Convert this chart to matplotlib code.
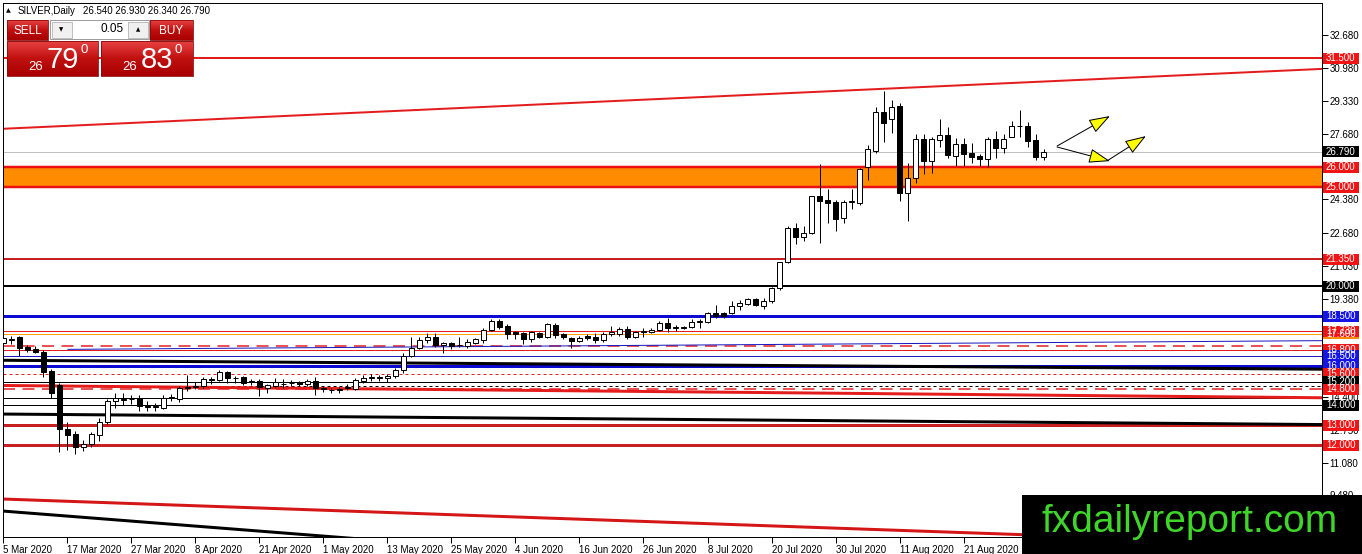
import matplotlib
matplotlib.use('Agg')
import numpy as np
import matplotlib.pyplot as plt
import matplotlib.transforms as mtransforms
from matplotlib.patches import Rectangle, FancyArrowPatch
from matplotlib.colors import LinearSegmentedColormap

plt.rcParams['font.family'] = ['Liberation Sans', 'DejaVu Sans']

# ---- data ----
symbol = 'SILVER,Daily'
header_ohlc = ['26.540', '26.930', '26.340', '26.790']
sell_price = ('26', '79', '0')
buy_price = ('26', '83', '0')
lot_size = '0.05'

opens = [17.13, 17.29, 17.45, 16.92, 16.82, 16.67, 15.72, 15.03, 12.79, 12.56,
         11.88, 12.03, 12.51, 13.17, 14.20, 14.29, 14.32, 14.35, 13.95, 13.90,
         13.85, 14.35, 14.31, 14.91, 14.91, 14.98, 15.28, 15.28, 15.66, 15.38,
         15.41, 15.16, 15.23, 14.86, 14.98, 15.06, 15.14, 15.16, 15.06, 15.23,
         14.86, 14.79, 14.79, 14.89, 14.81, 15.23, 15.39, 15.41, 15.36, 15.48,
         15.78, 16.50, 16.90, 17.29, 17.45, 17.04, 17.15, 17.02, 16.99, 17.15,
         17.29, 17.80, 18.26, 18.00, 17.68, 17.63, 17.33, 17.63, 17.46, 18.05,
         17.60, 17.38, 17.26, 17.50, 17.43, 17.30, 17.58, 17.60, 17.83, 17.43,
         17.70, 17.68, 17.80, 18.16, 17.90, 17.91, 17.93, 18.20, 18.18, 18.63,
         18.63, 18.63, 19.01, 19.11, 19.36, 19.01, 19.24, 19.90, 21.21, 22.92,
         22.50, 22.67, 24.56, 24.35, 24.26, 23.43, 24.25, 24.21, 26.00, 26.83,
         28.80, 28.41, 29.09, 24.72, 25.45, 27.41, 26.33, 27.38, 27.63, 26.57,
         27.18, 26.73, 26.57, 26.43, 27.41, 26.95, 27.51, 28.06, 28.08, 27.38,
         26.54]
highs = [17.45, 17.49, 17.49, 17.04, 17.00, 16.77, 15.82, 15.11, 13.14, 12.71,
         12.23, 12.67, 13.35, 14.31, 14.63, 14.60, 14.50, 14.52, 14.20, 14.10,
         14.50, 14.55, 14.99, 15.51, 15.16, 15.44, 15.44, 15.78, 15.73, 15.49,
         15.49, 15.31, 15.31, 15.08, 15.36, 15.32, 15.28, 15.23, 15.34, 15.44,
         14.98, 14.89, 14.94, 15.08, 15.36, 15.53, 15.56, 15.53, 15.56, 15.87,
         16.62, 17.42, 17.45, 17.62, 17.62, 17.20, 17.20, 17.45, 17.32, 17.40,
         17.88, 18.33, 18.33, 18.10, 17.76, 17.71, 17.76, 17.71, 18.16, 18.13,
         17.66, 17.46, 17.50, 17.60, 17.63, 17.71, 18.00, 17.96, 18.00, 17.76,
         17.88, 17.88, 18.26, 18.38, 18.05, 18.00, 18.33, 18.33, 18.71, 19.06,
         18.71, 19.27, 19.31, 19.39, 19.39, 19.39, 19.95, 21.24, 23.02, 23.20,
         23.04, 24.56, 26.16, 24.89, 24.35, 24.35, 24.89, 25.95, 27.12, 29.02,
         29.86, 29.39, 29.22, 26.20, 27.69, 27.69, 27.54, 28.41, 28.04, 27.46,
         27.46, 27.21, 26.67, 27.54, 27.84, 27.68, 28.34, 28.89, 28.29, 27.68,
         26.93]
lows = [17.05, 17.07, 16.50, 16.67, 16.62, 15.44, 14.39, 11.66, 11.75, 11.53,
        11.69, 11.91, 12.20, 13.07, 13.88, 14.02, 14.05, 13.72, 13.72, 13.73,
        13.80, 14.20, 14.15, 14.74, 14.81, 14.89, 15.08, 15.24, 15.14, 15.14,
        15.03, 15.03, 14.49, 14.61, 14.91, 14.86, 14.98, 14.98, 14.98, 14.53,
        14.69, 14.61, 14.64, 14.78, 14.78, 15.14, 15.23, 15.24, 15.19, 15.36,
        15.64, 16.45, 16.84, 17.15, 16.95, 16.62, 16.82, 16.95, 16.87, 17.09,
        17.15, 17.76, 17.83, 17.33, 17.33, 17.09, 17.21, 17.38, 17.38, 17.38,
        17.33, 16.87, 17.21, 17.30, 17.16, 17.21, 17.50, 17.50, 17.33, 17.38,
        17.43, 17.63, 17.76, 17.71, 17.76, 17.83, 17.88, 17.88, 18.13, 18.38,
        18.38, 18.60, 18.81, 19.06, 19.01, 18.84, 19.17, 19.83, 21.18, 22.11,
        22.30, 22.64, 22.17, 23.20, 22.80, 23.20, 23.88, 24.08, 25.36, 26.73,
        27.28, 27.74, 24.32, 23.31, 25.19, 25.66, 25.72, 27.04, 26.45, 26.07,
        26.07, 26.20, 26.07, 26.03, 26.45, 26.73, 27.51, 27.51, 27.00, 26.37,
        26.34]
closes = [17.37, 17.32, 16.90, 16.77, 16.70, 15.69, 14.64, 12.79, 12.51, 11.91,
          12.03, 12.54, 13.17, 14.21, 14.35, 14.32, 14.30, 13.97, 13.92, 13.95,
          14.38, 14.40, 14.85, 14.86, 14.98, 15.32, 15.31, 15.69, 15.36, 15.36,
          15.11, 15.21, 14.91, 15.03, 15.19, 15.09, 15.13, 15.08, 15.23, 14.86,
          14.84, 14.76, 14.83, 14.93, 15.28, 15.39, 15.43, 15.38, 15.46, 15.78,
          16.47, 16.90, 17.27, 17.45, 17.04, 17.15, 16.99, 17.05, 17.20, 17.32,
          17.80, 18.26, 17.96, 17.60, 17.58, 17.33, 17.68, 17.46, 18.08, 17.55,
          17.46, 17.26, 17.41, 17.38, 17.30, 17.58, 17.68, 17.83, 17.46, 17.71,
          17.73, 17.81, 18.16, 17.88, 17.93, 17.93, 18.21, 18.23, 18.63, 18.50,
          18.51, 19.01, 19.17, 19.36, 19.06, 19.24, 19.90, 21.21, 22.92, 22.50,
          22.67, 24.56, 24.32, 24.21, 23.40, 24.26, 24.28, 25.90, 26.90, 28.80,
          28.21, 29.05, 24.72, 25.45, 27.41, 26.33, 27.41, 27.63, 26.62, 27.18,
          26.67, 26.53, 26.43, 27.41, 26.95, 27.41, 28.06, 28.09, 27.33, 26.50,
          26.79]

# one label every 8 bars
date_labels = ['5 Mar 2020', '17 Mar 2020', '27 Mar 2020', '8 Apr 2020',
               '21 Apr 2020', '1 May 2020', '13 May 2020', '25 May 2020',
               '4 Jun 2020', '16 Jun 2020', '26 Jun 2020', '8 Jul 2020',
               '20 Jul 2020', '30 Jul 2020', '11 Aug 2020', '21 Aug 2020']
label_step = 8

price_ticks = [32.68, 30.98, 29.33, 27.68, 24.38, 22.68, 21.03, 19.38,
               14.40, 12.75, 11.08, 9.48]

zone_low, zone_high = 25.00, 26.00

level_prices = [31.50, 26.79, 26.00, 25.00, 21.35, 20.00, 18.50, 17.73, 17.60,
                17.00, 16.80, 16.50, 16.00, 15.60, 15.20, 14.95, 14.80, 14.35,
                14.00, 13.00, 12.00]
tag_prices = [31.50, 26.79, 26.00, 25.00, 21.35, 20.00, 18.50, 17.60, 17.73,
              16.80, 16.50, 16.00, 15.60, 15.20, 14.80, 14.00, 13.00, 12.00]

trend_start = [(0, 27.94), (0, 16.27), (8, 16.82), (0, 15.00), (0, 13.56),
               (-1, 9.29), (-1, 8.70)]
trend_end = [(165, 30.96), (165, 15.82), (165, 17.26), (165, 14.38),
             (165, 13.03), (165, 6.95), (165, 3.47)]

arrow_start = [(131.7, 27.07), (131.7, 27.02), (138.1, 26.36)]
arrow_end = [(138.3, 28.58), (138.3, 26.31), (142.8, 27.57)]

# ---- styles ----
RED = '#e41c1c'
DRED = '#c82020'
BLUE = '#0a0ad2'
PX = 0.72  # one pixel in points at 100 dpi

level_styles = {
    31.50: (RED, 2, None), 26.79: ('#c0c0c0', 1, None),
    26.00: ('#ee1010', 2.5, None), 25.00: ('#ee1010', 2.5, None),
    21.35: (DRED, 2, None), 20.00: ('black', 2, None),
    18.50: (BLUE, 3, None), 17.73: (RED, 1, None),
    17.60: ('#ffa500', 1, None), 17.00: (RED, 1.5, (8, 5)),
    16.80: (RED, 1, None), 16.50: ('#1818c0', 1, None),
    16.00: (BLUE, 3, None), 15.60: (RED, 1, (3, 3)),
    15.20: ('black', 1, None), 14.95: ('black', 1, (3, 3)),
    14.80: (RED, 1.5, (8, 5)), 14.35: ('black', 1, None),
    14.00: ('black', 1, None), 13.00: (DRED, 3, None), 12.00: (DRED, 3, None),
}
trend_styles = [(RED, 2), ('black', 3), ('#1818c0', 1), (RED, 3),
                ('black', 3), ('#d41616', 3), ('black', 3)]
tag_colors = {31.50: '#f01414', 26.79: 'black', 26.00: '#f01414',
              25.00: '#f01414', 21.35: '#f01414', 20.00: 'black',
              18.50: '#1414e6', 17.60: '#ff8c00', 17.73: '#f01414',
              16.80: '#f01414', 16.50: '#1414e6', 16.00: '#1414e6',
              15.60: '#f01414', 15.20: 'black', 14.80: '#f01414',
              14.00: 'black', 13.00: '#f01414', 12.00: '#f01414'}

W, H = 1362, 554
fig = plt.figure(figsize=(W / 100, H / 100), dpi=100)
ax = fig.add_axes([3 / W, 17 / H, 1319 / W, 534 / H])
ax.set_xlim(-0.06, 164.81)
ax.set_ylim(7.363, 34.278)
px_per_price = 534 / (34.278 - 7.363)

for s in ax.spines.values():
    s.set_linewidth(PX)
    s.set_color('black')

# support zone
ax.axhspan(zone_low, zone_high, color='#ff8c00', lw=0, zorder=1)

# horizontal levels
for p in level_prices:
    c, w, d = level_styles[p]
    ln = ax.axhline(p, color=c, lw=w * PX, zorder=2)
    if d:
        ln.set_dashes(d)

# trend lines
for (x0, y0), (x1, y1), (c, w) in zip(trend_start, trend_end, trend_styles):
    ax.plot([x0, x1], [y0, y1], color=c, lw=w * PX, zorder=2,
            solid_capstyle='butt')

# candles
x = np.arange(len(opens))
o = np.array(opens)
c_ = np.array(closes)
ax.vlines(x, lows, highs, color='black', lw=PX, zorder=5)
bottoms = np.minimum(o, c_)
heights = np.maximum(np.abs(c_ - o), 0.01)
fills = ['white' if cl >= op else 'black' for op, cl in zip(o, c_)]
ax.bar(x, heights, bottom=bottoms, width=0.56, color=fills,
       edgecolor='black', linewidth=PX, zorder=6)

# arrows
for a, b in zip(arrow_start, arrow_end):
    ax.add_patch(FancyArrowPatch(a, b, arrowstyle='-|>,head_length=1.1,head_width=0.38',
                                 mutation_scale=12, fc='#ffff00', ec='black',
                                 lw=PX, zorder=8, shrinkA=0, shrinkB=0))

# axes ticks
ax.yaxis.tick_right()
ax.set_yticks(price_ticks, [f'{v:.3f}' for v in price_ticks])
ax.tick_params(axis='y', direction='out', length=4, width=PX, pad=1.5,
               labelsize=7)
ax.set_xticks(range(0, label_step * len(date_labels), label_step), date_labels)
ax.tick_params(axis='x', direction='out', length=4, width=PX, pad=1.5,
               labelsize=7)
for t in ax.get_xticklabels():
    t.set_ha('left')

# price tags on the right scale
tag_tf = mtransforms.blended_transform_factory(ax.transAxes, ax.transData)
for p in tag_prices:
    ax.add_patch(Rectangle((1 + 1 / 1319, p - 5.5 / px_per_price), 36 / 1319,
                           11 / px_per_price, transform=tag_tf,
                           fc=tag_colors[p], ec='none', clip_on=False,
                           zorder=20))
    ax.text(1 + 4 / 1319, p, f'{p:.3f}', transform=tag_tf, color='white',
            fontsize=7, va='center', ha='left', clip_on=False, zorder=21)

# ---- overlay in pixel coordinates: header, trade panel, watermark ----
ov = fig.add_axes([0, 0, 1, 1])
ov.patch.set_alpha(0)
ov.axis('off')

red_cmap = LinearSegmentedColormap.from_list('r', ['#e84242', '#c01010', '#a80000'])
grad = np.linspace(0, 1, 64).reshape(-1, 1)


def red_box(x0, y0, x1, y1):
    ov.imshow(grad, cmap=red_cmap, extent=(x0, x1, y1, y0), aspect='auto',
              interpolation='bilinear', zorder=2)
    ov.add_patch(Rectangle((x0, y0), x1 - x0, y1 - y0, fc='none',
                           ec='#8a0a0a', lw=0.6, zorder=3))


red_box(7, 20, 48, 40)
red_box(150, 20, 193, 40)
red_box(7, 41, 98, 76)
red_box(101, 41, 193, 76)
ov.add_patch(Rectangle((50, 20), 99, 18.5, fc='white', ec='#9a9a9a', lw=0.7, zorder=2))
ov.add_patch(Rectangle((51.5, 21.5), 20, 16, fc='#f0f0f0', ec='#b4b4b4', lw=0.6, zorder=3))
ov.add_patch(Rectangle((128, 21.5), 20, 16, fc='#f0f0f0', ec='#b4b4b4', lw=0.6, zorder=3))
ov.text(61.5, 29.5, '\u25bc', fontsize=4, ha='center', va='center', zorder=4,
        family=['DejaVu Sans'])
ov.text(138, 29.5, '\u25b2', fontsize=4, ha='center', va='center', zorder=4,
        family=['DejaVu Sans'])
ov.text(124, 29.5, lot_size, fontsize=8.5, ha='right', va='center', zorder=4)
ov.text(27.5, 30.5, 'SELL', fontsize=8.5, color='white', ha='center',
        va='center', zorder=4)
ov.text(171.5, 30.5, 'BUY', fontsize=8.5, color='white', ha='center',
        va='center', zorder=4)

for dx, (big0, big1, sup) in zip([0, 94], [sell_price, buy_price]):
    ov.text(36 + dx, 67.5, big0, fontsize=9.5, color='white', ha='center',
            va='center', zorder=4)
    ov.text(63 + dx, 60, big1, fontsize=21, color='white', ha='center',
            va='center', zorder=4)
    ov.text(84 + dx, 50, sup, fontsize=9.5, color='white', ha='center',
            va='center', zorder=4)

ov.text(8.5, 10.5, '\u25b2', fontsize=4.5, ha='center', va='center',
        family=['DejaVu Sans'])
ov.text(18, 10.5, symbol, fontsize=7, ha='left', va='center')
ov.text(83, 10.5, ' '.join(header_ohlc), fontsize=7, ha='left', va='center')

ov.add_patch(Rectangle((1022, 495), W - 1022, H - 495, fc='black', ec='none',
                       zorder=5))
ov.text(1190, 522, 'fxdailyreport.com', fontsize=28, color='#3fd62a',
        ha='center', va='center', zorder=6)

ov.set_xlim(0, W)
ov.set_ylim(H, 0)

fig.savefig('out.png', dpi=100)
